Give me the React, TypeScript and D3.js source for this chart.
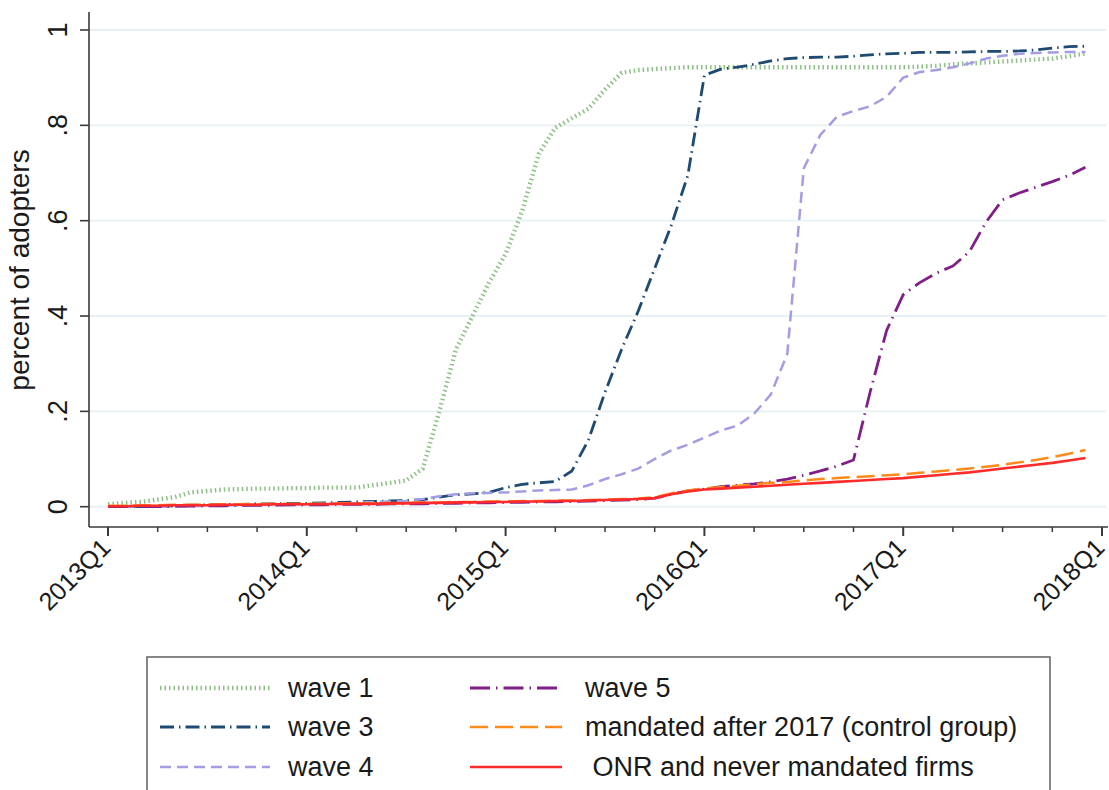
import React from "react";
import * as d3 from "d3";

// Monthly observations, Jan 2013 .. Dec 2017 (60 months)
const wave1 = [
  0.005, 0.008, 0.010, 0.015, 0.020, 0.030, 0.033, 0.036, 0.037, 0.038, 0.038, 0.039,
  0.039, 0.040, 0.040, 0.040, 0.045, 0.050, 0.055, 0.080, 0.200, 0.330, 0.400, 0.470,
  0.530, 0.620, 0.740, 0.795, 0.815, 0.835, 0.875, 0.910, 0.916, 0.918, 0.920, 0.922,
  0.922, 0.922, 0.922, 0.922, 0.922, 0.922, 0.922, 0.922, 0.922, 0.922, 0.922, 0.922,
  0.922, 0.923, 0.925, 0.928, 0.930, 0.932, 0.934, 0.936, 0.938, 0.940, 0.945, 0.951,
];
const wave3 = [
  0.000, 0.000, 0.000, 0.001, 0.002, 0.003, 0.004, 0.005, 0.005, 0.006, 0.006, 0.007,
  0.007, 0.008, 0.009, 0.010, 0.011, 0.012, 0.013, 0.015, 0.020, 0.025, 0.027, 0.030,
  0.040, 0.047, 0.050, 0.053, 0.075, 0.140, 0.240, 0.330, 0.410, 0.500, 0.590, 0.695,
  0.905, 0.918, 0.922, 0.928, 0.935, 0.940, 0.942, 0.943, 0.943, 0.945, 0.948, 0.950,
  0.951, 0.953, 0.953, 0.953, 0.954, 0.955, 0.955, 0.956, 0.958, 0.962, 0.965, 0.966,
];
const wave4 = [
  0.000, 0.000, 0.000, 0.000, 0.000, 0.001, 0.002, 0.003, 0.003, 0.004, 0.004, 0.005,
  0.005, 0.006, 0.007, 0.008, 0.010, 0.011, 0.012, 0.016, 0.022, 0.026, 0.028, 0.029,
  0.030, 0.032, 0.034, 0.035, 0.036, 0.045, 0.058, 0.068, 0.080, 0.100, 0.118, 0.130,
  0.145, 0.160, 0.170, 0.195, 0.235, 0.320, 0.710, 0.780, 0.818, 0.830, 0.840, 0.860,
  0.900, 0.912, 0.916, 0.922, 0.930, 0.940, 0.946, 0.950, 0.952, 0.953, 0.954, 0.954,
];
const wave5 = [
  0.000, 0.000, 0.000, 0.000, 0.001, 0.001, 0.002, 0.002, 0.003, 0.003, 0.003, 0.004,
  0.004, 0.004, 0.005, 0.005, 0.005, 0.006, 0.006, 0.006, 0.007, 0.007, 0.008, 0.008,
  0.009, 0.009, 0.010, 0.010, 0.011, 0.012, 0.013, 0.014, 0.015, 0.018, 0.026, 0.033,
  0.037, 0.042, 0.045, 0.048, 0.052, 0.058, 0.066, 0.075, 0.085, 0.098, 0.240, 0.370,
  0.445, 0.470, 0.490, 0.505, 0.535, 0.597, 0.644, 0.658, 0.670, 0.682, 0.695, 0.712,
];
const mandatedAfter2017 = [
  0.002, 0.002, 0.003, 0.003, 0.004, 0.004, 0.004, 0.005, 0.005, 0.005, 0.006, 0.006,
  0.006, 0.006, 0.007, 0.007, 0.007, 0.008, 0.008, 0.009, 0.009, 0.010, 0.010, 0.011,
  0.011, 0.012, 0.012, 0.013, 0.013, 0.014, 0.015, 0.016, 0.017, 0.020, 0.028, 0.034,
  0.038, 0.041, 0.044, 0.047, 0.050, 0.052, 0.055, 0.058, 0.060, 0.062, 0.064, 0.066,
  0.068, 0.071, 0.074, 0.077, 0.080, 0.084, 0.088, 0.093, 0.098, 0.104, 0.111, 0.119,
];
const onrNeverMandated = [
  0.001, 0.001, 0.002, 0.002, 0.003, 0.003, 0.003, 0.004, 0.004, 0.004, 0.005, 0.005,
  0.005, 0.005, 0.006, 0.006, 0.006, 0.007, 0.007, 0.008, 0.008, 0.009, 0.009, 0.010,
  0.010, 0.011, 0.011, 0.012, 0.012, 0.013, 0.014, 0.015, 0.016, 0.018, 0.026, 0.032,
  0.036, 0.038, 0.040, 0.042, 0.044, 0.046, 0.048, 0.050, 0.052, 0.054, 0.056, 0.058,
  0.060, 0.063, 0.066, 0.069, 0.072, 0.076, 0.080, 0.084, 0.088, 0.092, 0.097, 0.102,
];

const xTickLabels = ["2013Q1", "2014Q1", "2015Q1", "2016Q1", "2017Q1", "2018Q1"];
const yTickValues = [0, 0.2, 0.4, 0.6, 0.8, 1];
const yTickLabels = ["0", ".2", ".4", ".6", ".8", "1"];
const yTitle = "percent of adopters";

const seriesNames = [
  "wave 1",
  "wave 3",
  "wave 4",
  "wave 5",
  "mandated after 2017 (control group)",
  " ONR and never mandated firms",
];
const seriesValues = [wave1, wave3, wave4, wave5, mandatedAfter2017, onrNeverMandated];

const styles = [
  { color: "#8cc084", width: 4.4, dash: "1.5,3" },
  { color: "#1f4a72", width: 2.8, dash: "14,5,1.5,5" },
  { color: "#a39de3", width: 2.5, dash: "11,6" },
  { color: "#7f1f87", width: 2.8, dash: "20,6,1.5,6" },
  { color: "#ff8a1c", width: 2.5, dash: "18,7" },
  { color: "#ff2a2a", width: 2.6, dash: "none" },
];

const W = 1109;
const H = 790;
const FONT = "'Liberation Sans', Arial, sans-serif";

export default function App() {
  const x = d3.scaleLinear().domain([0, 60]).range([108, 1102]);
  const y = d3.scaleLinear().domain([0, 1]).range([506.7, 30]);
  const axisY = 527;
  const axisX = 89;

  const line = d3
    .line<number>()
    .x((_, i) => x(i))
    .y((d) => y(d));

  const quarterTicks = d3.range(0, 61, 3);
  const legendCols = [
    { sx0: 160, sx1: 270, tx: 288 },
    { sx0: 470, sx1: 562, tx: 585 },
  ];
  const legendRows = [688, 727, 767];

  return (
    <div style={{ position: "absolute", left: 0, top: 0 }}>
      <svg width={W} height={H} style={{ display: "block", background: "#fff" }}>
        <rect x={0} y={0} width={W} height={H} fill="#fff" />
        {/* grid */}
        {yTickValues.map((v, i) => (
          <line key={"g" + i} x1={axisX} x2={1106} y1={y(v)} y2={y(v)} stroke="#e7f0f2" strokeWidth={1.8} />
        ))}
        {/* series */}
        {seriesValues.map((vals, i) => (
          <path
            key={"s" + i}
            d={line(vals) || ""}
            fill="none"
            stroke={styles[i].color}
            strokeWidth={styles[i].width}
            strokeDasharray={styles[i].dash}
            strokeLinejoin="round"
          />
        ))}
        {/* y axis */}
        <line x1={axisX} x2={axisX} y1={12} y2={axisY} stroke="#3a3a3a" strokeWidth={1.6} />
        {yTickValues.map((v, i) => (
          <g key={"yt" + i}>
            <line x1={axisX - 9} x2={axisX} y1={y(v)} y2={y(v)} stroke="#3a3a3a" strokeWidth={1.6} />
            <text
              transform={`translate(${67},${y(v)}) rotate(-90)`}
              textAnchor="middle"
              fontFamily={FONT}
              fontSize={27}
              fill="#1a1a1a"
            >
              {yTickLabels[i]}
            </text>
          </g>
        ))}
        <text
          transform={`translate(${29},${270}) rotate(-90)`}
          textAnchor="middle"
          fontFamily={FONT}
          fontSize={28}
          fill="#1a1a1a"
        >
          {yTitle}
        </text>
        {/* x axis */}
        <line x1={axisX} x2={1108} y1={axisY} y2={axisY} stroke="#3a3a3a" strokeWidth={1.6} />
        {quarterTicks.map((m) => (
          <line
            key={"xt" + m}
            x1={x(m)}
            x2={x(m)}
            y1={axisY}
            y2={axisY + (m % 12 === 0 ? 9 : 5)}
            stroke="#3a3a3a"
            strokeWidth={m % 12 === 0 ? 2 : 1.5}
          />
        ))}
        {xTickLabels.map((lab, i) => (
          <text
            key={"xl" + i}
            transform={`translate(${x(i * 12) - 2},${axisY + 16}) rotate(-45)`}
            textAnchor="end"
            dy="0.35em"
            fontFamily={FONT}
            fontSize={25}
            fill="#1a1a1a"
          >
            {lab}
          </text>
        ))}
        {/* legend */}
        <rect x={147} y={657} width={903} height={150} fill="#fff" stroke="#6a6a6a" strokeWidth={1.6} />
        {seriesNames.map((name, i) => {
          const col = legendCols[i < 3 ? 0 : 1];
          const row = legendRows[i % 3];
          return (
            <g key={"lg" + i}>
              <line
                x1={col.sx0}
                x2={col.sx1}
                y1={row}
                y2={row}
                stroke={styles[i].color}
                strokeWidth={styles[i].width}
                strokeDasharray={styles[i].dash}
              />
              <text
                x={col.tx}
                y={row}
                dy="0.35em"
                fontFamily={FONT}
                fontSize={27}
                fill="#1a1a1a"
                style={{ whiteSpace: "pre" }}
              >
                {name}
              </text>
            </g>
          );
        })}
      </svg>
    </div>
  );
}
